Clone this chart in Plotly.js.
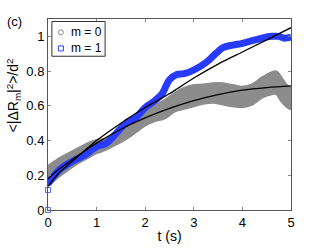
<!DOCTYPE html>
<html>
<head>
<meta charset="utf-8">
<script src="https://cdn.plot.ly/plotly-3.0.1.min.js"></script>
<style>html,body{margin:0;padding:0;background:#fff;}#chart{width:322px;height:251px;}</style>
</head>
<body>
<div id="chart"></div>
<script>
// m = 0 data band (grey), upper and lower edges
const tGrey = [0, 0.2, 0.4, 0.6, 0.8, 1.0, 1.2, 1.4, 1.6, 1.8, 2.0, 2.2, 2.4, 2.6, 2.8, 3.0, 3.2, 3.4, 3.6, 3.8, 4.0, 4.2, 4.4, 4.6, 4.7, 4.8, 4.9, 5.0];
const greyUpper = [0.25, 0.29, 0.32, 0.35, 0.38, 0.40, 0.41, 0.45, 0.49, 0.54, 0.57, 0.60, 0.63, 0.67, 0.70, 0.717, 0.72, 0.727, 0.727, 0.717, 0.707, 0.72, 0.76, 0.79, 0.795, 0.76, 0.72, 0.70];
const greyLower = [0.14, 0.19, 0.23, 0.27, 0.30, 0.33, 0.35, 0.38, 0.41, 0.45, 0.49, 0.515, 0.53, 0.57, 0.585, 0.60, 0.615, 0.62, 0.61, 0.60, 0.595, 0.61, 0.65, 0.67, 0.67, 0.63, 0.60, 0.58];
const greyMid = [0.20, 0.24, 0.275, 0.31, 0.34, 0.365, 0.38, 0.415, 0.45, 0.495, 0.53, 0.56, 0.58, 0.62, 0.64, 0.66, 0.667, 0.673, 0.668, 0.658, 0.651, 0.665, 0.705, 0.73, 0.732, 0.695, 0.66, 0.64];

// m = 1 data band (blue), centre line
const tBlue = [0, 0.1, 0.25, 0.5, 0.75, 1.0, 1.2, 1.4, 1.6, 1.8, 2.0, 2.2, 2.35, 2.5, 2.65, 2.8, 2.95, 3.15, 3.3, 3.45, 3.6, 3.8, 4.0, 4.2, 4.4, 4.6, 4.75, 4.85, 5.0];
const blueMid = [0.15, 0.19, 0.235, 0.28, 0.315, 0.365, 0.384, 0.44, 0.50, 0.53, 0.59, 0.63, 0.67, 0.75, 0.78, 0.785, 0.80, 0.83, 0.86, 0.90, 0.935, 0.95, 0.96, 0.975, 0.99, 1.0, 1.0, 0.99, 0.995];
// isolated m = 1 points at t = 0
const tBlueOut = [0, 0];
const blueOut = [0.0, 0.115];

// black fit curves
const tFit = [0, 0.25, 0.5, 1, 1.5, 2, 2.5, 3, 3.5, 4, 4.5, 5];
const fitM0 = [0.18, 0.24, 0.29, 0.385, 0.465, 0.53, 0.585, 0.63, 0.665, 0.69, 0.705, 0.715];
const fitM1 = [0.136, 0.22, 0.28, 0.40, 0.50, 0.59, 0.67, 0.76, 0.84, 0.91, 0.98, 1.05];

const xTicks = [0, 1, 2, 3, 4, 5];
const yTicks = [0, 0.2, 0.4, 0.6, 0.8, 1];
const legendLabels = ['m = 0', 'm = 1'];

const grey = 'rgb(140,140,140)';
const blue = 'rgb(40,60,255)';
const FONT = 'Liberation Sans, Arial, Helvetica, sans-serif';

const traces = [
  {x: tGrey, y: greyLower, mode: 'lines', line: {color: grey, width: 3, shape: 'spline'}, showlegend: false, hoverinfo: 'skip'},
  {x: tGrey, y: greyUpper, mode: 'lines', line: {color: grey, width: 3, shape: 'spline'}, fill: 'tonexty', fillcolor: grey, showlegend: false, hoverinfo: 'skip'},
  {x: tGrey, y: greyMid, mode: 'markers', name: legendLabels[0], marker: {symbol: 'circle-open', size: 4, color: grey}, showlegend: false},
  {x: tBlue, y: blueMid, mode: 'lines', line: {color: blue, width: 7, shape: 'spline'}, showlegend: false, hoverinfo: 'skip'},
  {x: tBlueOut, y: blueOut, mode: 'markers', name: legendLabels[1], marker: {symbol: 'square-open', size: 5, color: 'rgb(90,110,255)', line: {width: 1}}, showlegend: false, cliponaxis: false},
  {x: tFit, y: fitM0, mode: 'lines', line: {color: 'black', width: 1.3, shape: 'spline'}, showlegend: false},
  {x: tFit, y: fitM1, mode: 'lines', line: {color: 'black', width: 1.3, shape: 'spline'}, showlegend: false}
];

const axisCommon = {
  showline: true, linecolor: '#555', linewidth: 1, mirror: 'ticks',
  ticks: 'inside', ticklen: 3, tickcolor: '#888', tickwidth: 1,
  showgrid: false, zeroline: false,
  tickfont: {family: FONT, size: 13, color: 'black'}
};

const layout = {
  width: 322, height: 251,
  margin: {l: 48, r: 31, t: 18.5, b: 40.5},
  paper_bgcolor: 'white', plot_bgcolor: 'white',
  showlegend: false,
  xaxis: Object.assign({}, axisCommon, {
    range: [0, 5], tickvals: xTicks, ticktext: xTicks.map(String),
    title: {text: 't (s)', font: {family: FONT, size: 14, color: 'black'}, standoff: 2}
  }),
  yaxis: Object.assign({}, axisCommon, {
    range: [0, 1.1], tickvals: yTicks, ticktext: yTicks.map(String)
  }),
  shapes: [
    {type: 'rect', xref: 'paper', yref: 'paper', x0: 0.016, x1: 0.235, y0: 0.805, y1: 0.987, line: {color: '#333', width: 1}, fillcolor: 'white', layer: 'above'},
    {type: 'circle', xref: 'paper', yref: 'paper', xsizemode: 'pixel', ysizemode: 'pixel', xanchor: 0.053, yanchor: 0.93, x0: -2.5, x1: 2.5, y0: -2.5, y1: 2.5, line: {color: grey, width: 1}, layer: 'above'},
    {type: 'rect', xref: 'paper', yref: 'paper', xsizemode: 'pixel', ysizemode: 'pixel', xanchor: 0.053, yanchor: 0.846, x0: -2.5, x1: 2.5, y0: -2.5, y1: 2.5, line: {color: blue, width: 1}, layer: 'above'}
  ],
  annotations: [
    {text: legendLabels[0], xref: 'paper', yref: 'paper', x: 0.086, y: 0.93, xanchor: 'left', yanchor: 'middle', showarrow: false, font: {family: FONT, size: 12, color: 'black'}},
    {text: legendLabels[1], xref: 'paper', yref: 'paper', x: 0.086, y: 0.846, xanchor: 'left', yanchor: 'middle', showarrow: false, font: {family: FONT, size: 12, color: 'black'}},
    {text: '(c)', xref: 'paper', yref: 'paper', x: -0.178, y: 0.985, xanchor: 'left', yanchor: 'middle', showarrow: false, font: {family: FONT, size: 13, color: 'black'}},
    {text: '&lt;|ΔR<sub>m</sub>|<sup>2</sup>&gt;/d<sup>2</sup>', xref: 'paper', yref: 'paper', x: -0.14, y: 0.6, xanchor: 'center', yanchor: 'middle', textangle: -90, showarrow: false, font: {family: FONT, size: 14, color: 'black'}}
  ]
};

Plotly.newPlot('chart', traces, layout, {staticPlot: true, displayModeBar: false});
</script>
</body>
</html>
